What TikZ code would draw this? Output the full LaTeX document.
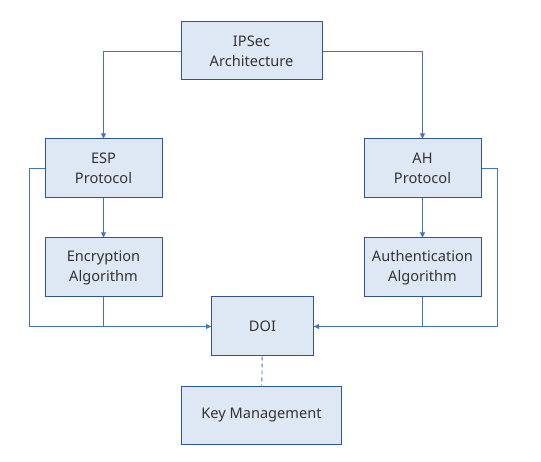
\documentclass[tikz,border=0pt]{standalone}
\usepackage{fontspec}
\setmainfont{Noto Sans}
\usetikzlibrary{arrows.meta}
\definecolor{boxfill}{HTML}{DEE8F5}
\definecolor{boxdraw}{HTML}{2F5597}
\definecolor{linecol}{HTML}{4472C4}
\definecolor{txt}{HTML}{333333}
\begin{document}
\begin{tikzpicture}[x=1pt,y=-1pt,
  box/.style={draw=boxdraw,fill=boxfill,line width=1pt,inner sep=0pt,align=center,
    text=txt,font=\fontsize{14.6}{20}\selectfont},
  conn/.style={draw=linecol,line width=0.9pt},
  arr/.style={conn,-{Triangle[length=5pt,width=5pt]}}]
\useasboundingbox (0,0) rectangle (541,462);
\node[box,minimum width=141,minimum height=58] (ipsec) at (251.5,51) {IPSec\\Architecture};
\node[box,minimum width=117,minimum height=59] (esp) at (103.5,168.5) {ESP\\Protocol};
\node[box,minimum width=117,minimum height=59] (ah) at (422.5,168.5) {AH\\Protocol};
\node[box,minimum width=117,minimum height=59] (enc) at (103.5,267.5) {Encryption\\Algorithm};
\node[box,minimum width=117,minimum height=59] (auth) at (422.5,267.5) {Authentication\\Algorithm};
\node[box,minimum width=102,minimum height=59] (doi) at (262.5,326.5) {DOI};
\node[box,minimum width=160,minimum height=58] (key) at (261.5,415) {Key Management};
\coordinate (lx) at (29,0);
\coordinate (rx) at (497,0);
\draw[arr] (ipsec.west) -| (esp.north);
\draw[arr] (ipsec.east) -| (ah.north);
\draw[arr] (esp) -- (enc);
\draw[arr] (ah) -- (auth);
\draw[arr] (enc.south) |- (doi.west);
\draw[arr] (auth.south) |- (doi.east);
\draw[conn] (esp.west) -- (esp.west -| lx) |- (doi.west);
\draw[conn] (ah.east) -- (ah.east -| rx) |- (doi.east);
\draw[conn,dashed,dash pattern=on 4pt off 3pt] (doi) -- (key);
\end{tikzpicture}
\end{document}
